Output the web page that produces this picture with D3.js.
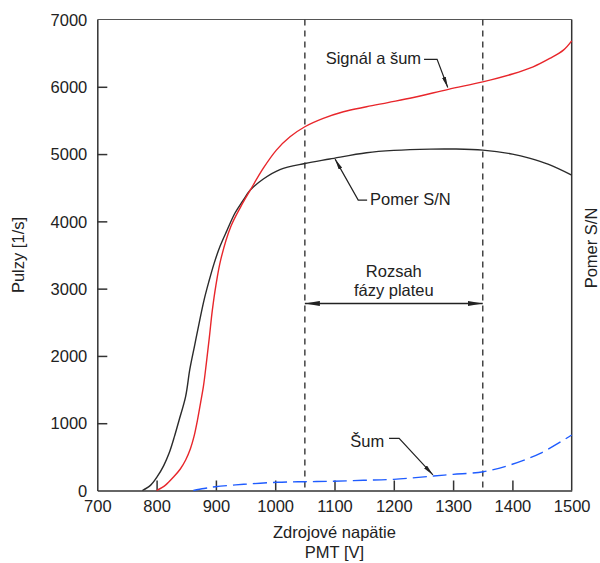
<!DOCTYPE html>
<html>
<head>
<meta charset="utf-8">
<script src="https://cdn.jsdelivr.net/npm/d3@7"></script>
<style>
  html, body { margin: 0; padding: 0; background: #fff; }
  svg text { font-family: "Liberation Sans", Arial, Helvetica, sans-serif; fill: #222; }
</style>
</head>
<body>
<svg id="chart" width="600" height="563"></svg>
<script>
// Signal + noise count rate vs. PMT supply voltage
const signalVoltage = [800, 815, 829, 840, 849, 857, 863, 869, 874, 879, 884, 889, 894, 900, 908, 925, 942, 958, 980, 1002, 1025, 1050, 1081, 1115, 1154, 1190, 1233, 1292, 1350, 1400, 1435, 1463, 1486, 1500];
const signalCounts  = [0, 80, 205, 320, 453, 620, 800, 1050, 1296, 1550, 1900, 2280, 2680, 3050, 3425, 3920, 4220, 4465, 4790, 5059, 5257, 5406, 5530, 5629, 5703, 5765, 5840, 5962, 6074, 6190, 6297, 6422, 6545, 6683];

// Signal-to-noise ratio (drawn against the same vertical scale)
const ratioVoltage = [776, 790, 801, 812, 821, 830, 838, 849, 856, 864, 872, 880, 888, 897, 907, 919, 932, 945, 958, 980, 1008, 1050, 1092, 1154, 1200, 1262, 1300, 1350, 1400, 1430, 1460, 1500];
const ratioValues  = [0, 80, 205, 370, 552, 800, 1048, 1400, 1800, 2150, 2500, 2830, 3100, 3376, 3630, 3871, 4120, 4300, 4465, 4630, 4770, 4860, 4926, 5020, 5055, 5074, 5075, 5059, 5000, 4936, 4850, 4688];

// Noise count rate
const noiseVoltage = [862, 880, 899, 947, 1003, 1051, 1098, 1149, 1200, 1267, 1300, 1351, 1396, 1447, 1500];
const noiseCounts  = [0, 30, 56, 92, 122, 131, 137, 152, 166, 215, 240, 279, 379, 553, 825];

// Plateau range
const plateau = [1050, 1350];

const xTicks = [700, 800, 900, 1000, 1100, 1200, 1300, 1400, 1500];
const yTicks = [0, 1000, 2000, 3000, 4000, 5000, 6000, 7000];

const xTitle = ["Zdrojové napätie", "PMT [V]"];
const yTitle = "Pulzy [1/s]";
const y2Title = "Pomer S/N";

const W = 600, H = 563;
const margin = { top: 19.5, right: 28.3, bottom: 72.5, left: 97.3 };
const iw = W - margin.left - margin.right;
const ih = H - margin.top - margin.bottom;

const svg = d3.select("#chart");
const g = svg.append("g").attr("transform", `translate(${margin.left},${margin.top})`);

const x = d3.scaleLinear().domain([700, 1500]).range([0, iw]);
const y = d3.scaleLinear().domain([0, 7000]).range([ih, 0]);

// arrowhead markers
const defs = svg.append("defs");
function marker(id, len, wid) {
  defs.append("marker")
    .attr("id", id)
    .attr("viewBox", `0 0 ${len} ${wid}`)
    .attr("refX", len).attr("refY", wid / 2)
    .attr("markerWidth", len).attr("markerHeight", wid)
    .attr("markerUnits", "userSpaceOnUse")
    .attr("orient", "auto-start-reverse")
    .append("path")
    .attr("d", `M0,0 L${len},${wid / 2} L0,${wid} Z`)
    .attr("fill", "#222");
}
marker("headBig", 15, 5);
marker("headSmall", 11, 4);

// frame
g.append("line").attr("x1", 0).attr("x2", iw).attr("y1", 0).attr("y2", 0)
  .attr("stroke", "#555").attr("stroke-width", 1);
g.append("line").attr("x1", iw).attr("x2", iw).attr("y1", 0).attr("y2", ih)
  .attr("stroke", "#333").attr("stroke-width", 1.5);

// axes with inward ticks
const xAxis = g.append("g").attr("transform", `translate(0,${ih})`)
  .call(d3.axisBottom(x).tickValues(xTicks).tickSize(-10).tickSizeOuter(0).tickFormat(d3.format("d")));
xAxis.selectAll("text").attr("y", 21).attr("dy", null).style("font-size", "16.5px");

const yAxis = g.append("g")
  .call(d3.axisLeft(y).tickValues(yTicks).tickSize(-10).tickSizeOuter(0).tickPadding(10).tickFormat(d3.format("d")));
yAxis.selectAll("text").attr("dy", "0.35em").style("font-size", "16.5px");

[xAxis, yAxis].forEach(a => {
  a.select(".domain").attr("stroke", "#333").attr("stroke-width", 1.5);
  a.selectAll(".tick line").attr("stroke", "#333").attr("stroke-width", 1.5);
});
xAxis.selectAll(".tick").filter(d => d === 700 || d === 1500).select("line").remove();
yAxis.selectAll(".tick").filter(d => d === 0 || d === 7000).select("line").remove();

// plateau boundaries
plateau.forEach(v => {
  g.append("line")
    .attr("x1", x(v)).attr("x2", x(v)).attr("y1", 0).attr("y2", ih)
    .attr("stroke", "#444").attr("stroke-width", 1.5)
    .attr("stroke-dasharray", "6,5");
});

// curves
const line = d3.line().x(d => x(d[0])).y(d => y(d[1])).curve(d3.curveCatmullRom.alpha(0.5));

g.append("path")
  .datum(d3.zip(ratioVoltage, ratioValues))
  .attr("d", line).attr("fill", "none")
  .attr("stroke", "#2b2b2b").attr("stroke-width", 1.4);

g.append("path")
  .datum(d3.zip(signalVoltage, signalCounts))
  .attr("d", line).attr("fill", "none")
  .attr("stroke", "#e8262b").attr("stroke-width", 1.4);

g.append("path")
  .datum(d3.zip(noiseVoltage, noiseCounts))
  .attr("d", line).attr("fill", "none")
  .attr("stroke", "#1f5cff").attr("stroke-width", 1.4)
  .attr("stroke-dasharray", "14,6");

// plateau range arrow and caption
const arrowY = 2780;
g.append("line")
  .attr("x1", x(plateau[0])).attr("x2", x(plateau[1]))
  .attr("y1", y(arrowY)).attr("y2", y(arrowY))
  .attr("stroke", "#222").attr("stroke-width", 1.5)
  .attr("marker-start", "url(#headBig)").attr("marker-end", "url(#headBig)");

const midV = (plateau[0] + plateau[1]) / 2;
g.append("text").attr("x", x(midV)).attr("y", y(arrowY) - 26)
  .attr("text-anchor", "middle").style("font-size", "16.5px").text("Rozsah");
g.append("text").attr("x", x(midV)).attr("y", y(arrowY) - 7)
  .attr("text-anchor", "middle").style("font-size", "16.5px").text("fázy plateu");

// leader callouts: label, text point, elbow start, elbow end, arrow tip
const callouts = [
  { label: "Signál a šum", anchor: "end",   text: [1246, 6337], a: [1251, 6407], b: [1273, 6407], tip: [1291, 5990] },
  { label: "Pomer S/N",    anchor: "start", text: [1160, 4245], a: [1155, 4316], b: [1140, 4316], tip: [1101, 4925] },
  { label: "Šum",          anchor: "end",   text: [1184, 646],  a: [1192, 776],  b: [1209, 776],  tip: [1266, 232] }
];
callouts.forEach(c => {
  g.append("text")
    .attr("x", x(c.text[0])).attr("y", y(c.text[1]))
    .attr("text-anchor", c.anchor).style("font-size", "16.5px").text(c.label);
  g.append("path")
    .attr("d", d3.line()([[x(c.a[0]), y(c.a[1])], [x(c.b[0]), y(c.b[1])], [x(c.tip[0]), y(c.tip[1])]]))
    .attr("fill", "none").attr("stroke", "#222").attr("stroke-width", 1.2)
    .attr("marker-end", "url(#headSmall)");
});

// axis titles
g.append("text").attr("x", iw / 2).attr("y", ih + 47.5)
  .attr("text-anchor", "middle").style("font-size", "16.5px").text(xTitle[0]);
g.append("text").attr("x", iw / 2).attr("y", ih + 67.5)
  .attr("text-anchor", "middle").style("font-size", "16.5px").text(xTitle[1]);

svg.append("text")
  .attr("transform", `translate(24,${margin.top + ih / 2}) rotate(-90)`)
  .attr("text-anchor", "middle").style("font-size", "16.5px").text(yTitle);

svg.append("text")
  .attr("transform", `translate(597,248) rotate(-90)`)
  .attr("text-anchor", "middle").style("font-size", "16.5px").text(y2Title);
</script>
</body>
</html>
